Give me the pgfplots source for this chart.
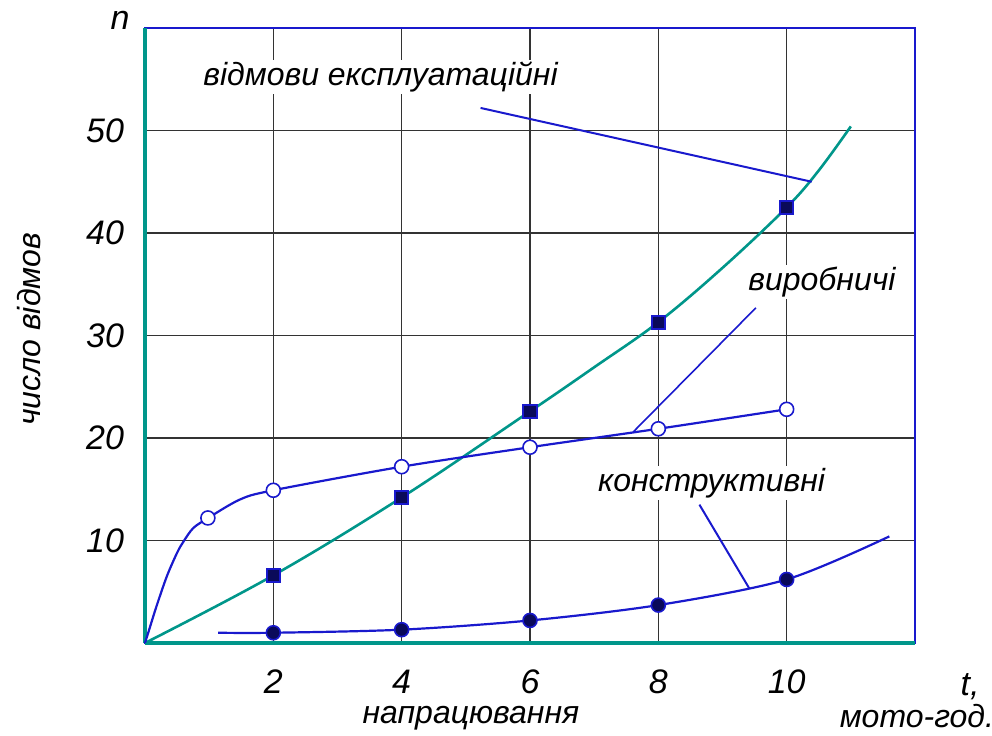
\documentclass[border=0pt]{standalone}
\usepackage{fontspec}
\setmainfont{Liberation Sans}
\usepackage{pgfplots}
\pgfplotsset{compat=1.18}
\definecolor{tealc}{RGB}{0,150,138}
\definecolor{bluec}{RGB}{25,25,205}
\definecolor{navy}{RGB}{10,10,90}
\begin{document}
\begin{tikzpicture}
\begin{axis}[
  scale only axis,
  width=385pt, height=307.5pt,
  xmin=0, xmax=12, ymin=0, ymax=60,
  xtick={2,4,6,8,10}, ytick={10,20,30,40,50},
  grid=major,
  grid style={black!80, line width=0.6pt},
  major tick length=0pt,
  axis line style={bluec, line width=1.2pt},
  /pgf/number format/assume math mode=true,
  ticklabel style={font=\itshape\fontsize{17}{17}\selectfont},
  xticklabel style={yshift=-10pt},
  yticklabel style={xshift=-7pt},
  clip=false,
]
\draw[tealc, line width=1.6pt] (axis cs:0,0) -- (axis cs:0,60);
\draw[tealc, line width=1.6pt] (axis cs:0,0) -- (axis cs:12,0);

% exploitation failures (teal)
\addplot[tealc, line width=1.3pt, smooth, tension=0.6] coordinates {
(0,0) (2,6.6) (4,14.2) (6,22.6) (7,26.9) (8,31.3) (9,36.6) (10,42.5) (10.5,46.1) (11,50.4)};
\addplot[only marks, mark=square*, mark size=3.3pt, mark options={fill=navy, draw=bluec, line width=1pt}] coordinates {
(2,6.6) (4,14.2) (6,22.6) (8,31.3) (10,42.5)};

% production failures
\addplot[bluec, line width=1.1pt, smooth, tension=0.5] coordinates {
(0,0) (0.08,1.6) (0.18,3.6) (0.34,6.5) (0.5,8.8) (0.6,9.9) (0.75,11.2) (0.96,12.1) (1.48,14.0) (2,14.9) (4,17.2) (6,19.1) (8,20.9) (10,22.8)};
\addplot[only marks, mark=*, mark size=3.5pt, mark options={fill=white, draw=bluec, line width=0.8pt}] coordinates {
(0.98,12.2) (2,14.9) (4,17.2) (6,19.1) (8,20.9) (10,22.8)};

% constructive failures
\addplot[bluec, line width=1.1pt, smooth, tension=0.5] coordinates {
(1.14,1.0) (2,1.0) (4,1.3) (6,2.2) (8,3.7) (10,6.2) (11.6,10.4)};
\addplot[only marks, mark=*, mark size=3.5pt, mark options={fill=navy, draw=bluec, line width=0.8pt}] coordinates {
(2,1.0) (4,1.3) (6,2.2) (8,3.7) (10,6.2)};

% leader lines
\addplot[bluec, line width=1pt] coordinates {(5.23,52.2) (10.39,45.0)};
\addplot[bluec, line width=0.8pt] coordinates {(9.52,32.7) (7.61,20.6)};
\addplot[bluec, line width=1pt] coordinates {(8.64,13.5) (9.42,5.3)};

% labels
\node[fill=white, inner sep=1pt, font=\itshape\fontsize{16}{16}\selectfont] at (axis cs:3.67,55.2) {відмови експлуатаційні};
\node[fill=white, inner sep=1pt, font=\itshape\fontsize{16}{16}\selectfont] at (axis cs:10.55,35.2) {виробничі};
\node[fill=white, inner sep=1pt, font=\itshape\fontsize{16}{16}\selectfont] at (axis cs:8.83,15.6) {конструктивні};
\node[inner sep=0pt, font=\itshape\fontsize{17}{17}\selectfont] at (axis cs:-0.39,60.7) {n};
\node[rotate=90, font=\itshape\fontsize{16}{16}\selectfont] at (axis cs:-1.8,30.6) {число відмов};
\node[inner sep=1pt, font=\itshape\fontsize{16}{16}\selectfont] at (axis cs:5.08,-7.3) {напрацювання};
\node[inner sep=1pt, font=\itshape\fontsize{17}{17}\selectfont] at (axis cs:12.86,-4.3) {t,};
\node[inner sep=1pt, font=\itshape\fontsize{16}{16}\selectfont] at (axis cs:12.03,-7.1) {мото-год.};
\end{axis}
\pgfresetboundingbox
\path ([shift={(-72.5pt,-46pt)}]current axis.south west) rectangle ([shift={(38.5pt,14pt)}]current axis.north east);
\end{tikzpicture}
\end{document}
